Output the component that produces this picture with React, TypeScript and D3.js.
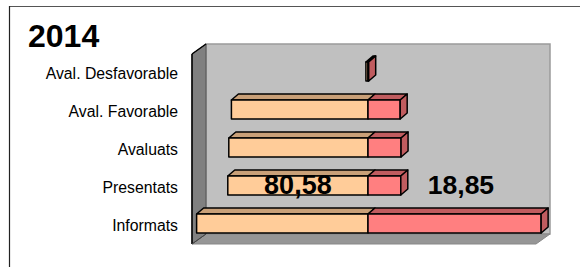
import React from "react";
import * as d3 from "d3";

const categories = ["Aval. Desfavorable", "Aval. Favorable", "Avaluats", "Presentats", "Informats"];
const leftValues = [1.2, 78.5, 80, 80.58, 98.5];
const rightValues = [0.4, 18.5, 19, 18.85, 99.5];
const title = "2014";
const labelLeft = "80,58";
const labelRight = "18,85";
const labelIndex = 3;

const W = 580;
const H = 267;
const FONT = "'Liberation Sans', Arial, sans-serif";

export default function App() {
  const front = { x0: 192, x1: 536, y0: 54, y1: 244 };
  const depth = { dx: 14, dy: -10 };
  const barDepth = { dx: 7, dy: -6 };

  const x = d3.scaleLinear().domain([-100, 100]).range([194, 542]);
  const y = d3
    .scaleBand<string>()
    .domain(categories)
    .range([front.y0 - 1.5, front.y1 - 1.5])
    .paddingInner(0.5)
    .paddingOuter(0.25);

  const pts = (a: number[][]) => a.map((p) => p.join(",")).join(" ");

  const back = pts([
    [front.x0 + depth.dx, front.y0 + depth.dy],
    [front.x1 + depth.dx, front.y0 + depth.dy],
    [front.x1 + depth.dx, front.y1 + depth.dy],
    [front.x0 + depth.dx, front.y1 + depth.dy],
  ]);
  const leftWall = pts([
    [front.x0, front.y0],
    [front.x0 + depth.dx, front.y0 + depth.dy],
    [front.x0 + depth.dx, front.y1 + depth.dy],
    [front.x0, front.y1],
  ]);
  const floor = pts([
    [front.x0, front.y1],
    [front.x0 + depth.dx, front.y1 + depth.dy],
    [front.x1 + depth.dx, front.y1 + depth.dy],
    [front.x1, front.y1],
  ]);

  const peach = "#FFCC99";
  const peachTop = "#C9A078";
  const red = "#FF7F80";
  const redTop = "#C05C5F";
  const bw = y.bandwidth();

  return (
    <svg
      width={W}
      height={H}
      style={{ position: "absolute", left: 0, top: 0, background: "#fff" }}
    >
      <rect x={0} y={0} width={W} height={H} fill="#fff" />
      <line x1={9.5} y1={6.5} x2={W} y2={6.5} stroke="#555" strokeWidth={1.2} />
      <line x1={9.5} y1={6} x2={9.5} y2={H} stroke="#222" strokeWidth={1.2} />

      <text x={28} y={47} fontFamily={FONT} fontWeight="bold" fontSize={32} fill="#000">
        {title}
      </text>

      <polygon points={back} fill="#C0C0C0" stroke="#9a9a9a" strokeWidth={1.5} />
      <polygon points={floor} fill="#969696" stroke="#888" strokeWidth={1} />
      <polygon points={leftWall} fill="#808080" stroke="#555" strokeWidth={1} />
      <line x1={front.x0} y1={front.y0} x2={front.x0} y2={front.y1} stroke="#000" strokeWidth={1.5} />
      <line
        x1={front.x0}
        y1={front.y0}
        x2={front.x0 + depth.dx}
        y2={front.y0 + depth.dy}
        stroke="#000"
        strokeWidth={1.5}
      />
      <line
        x1={front.x0}
        y1={front.y1}
        x2={front.x0 + depth.dx}
        y2={front.y1 + depth.dy}
        stroke="#444"
        strokeWidth={1}
      />

      {categories.map((c) => (
        <text
          key={c}
          x={178}
          y={(y(c) as number) + bw / 2 + 7.5}
          textAnchor="end"
          fontFamily={FONT}
          fontSize={15.8}
          fill="#000"
        >
          {c}
        </text>
      ))}

      {categories.map((c, i) => {
        const y0 = y(c) as number;
        const xa = x(-leftValues[i]);
        const xm = x(0);
        const xb = x(rightValues[i]);
        const { dx, dy } = barDepth;
        return (
          <g key={c} stroke="#000" strokeWidth={1.5} strokeLinejoin="round">
            <polygon
              points={pts([[xa, y0], [xa + dx, y0 + dy], [xm + dx, y0 + dy], [xm, y0]])}
              fill={peachTop}
            />
            <rect x={xa} y={y0} width={xm - xa} height={bw} fill={peach} />
            <polygon
              points={pts([[xm, y0], [xm + dx, y0 + dy], [xb + dx, y0 + dy], [xb, y0]])}
              fill={redTop}
            />
            <rect x={xm} y={y0} width={xb - xm} height={bw} fill={red} />
            <polygon
              points={pts([[xb, y0], [xb + dx, y0 + dy], [xb + dx, y0 + bw + dy], [xb, y0 + bw]])}
              fill={redTop}
            />
          </g>
        );
      })}

      <text
        x={(x(-leftValues[labelIndex]) + x(0)) / 2}
        y={(y(categories[labelIndex]) as number) + bw / 2 + 8.5}
        textAnchor="middle"
        fontFamily={FONT}
        fontWeight="bold"
        fontSize={27}
        fill="#000"
      >
        {labelLeft}
      </text>
      <text
        x={x(rightValues[labelIndex]) + 27}
        y={(y(categories[labelIndex]) as number) + bw / 2 + 8.5}
        textAnchor="start"
        fontFamily={FONT}
        fontWeight="bold"
        fontSize={26.5}
        fill="#000"
      >
        {labelRight}
      </text>
    </svg>
  );
}
